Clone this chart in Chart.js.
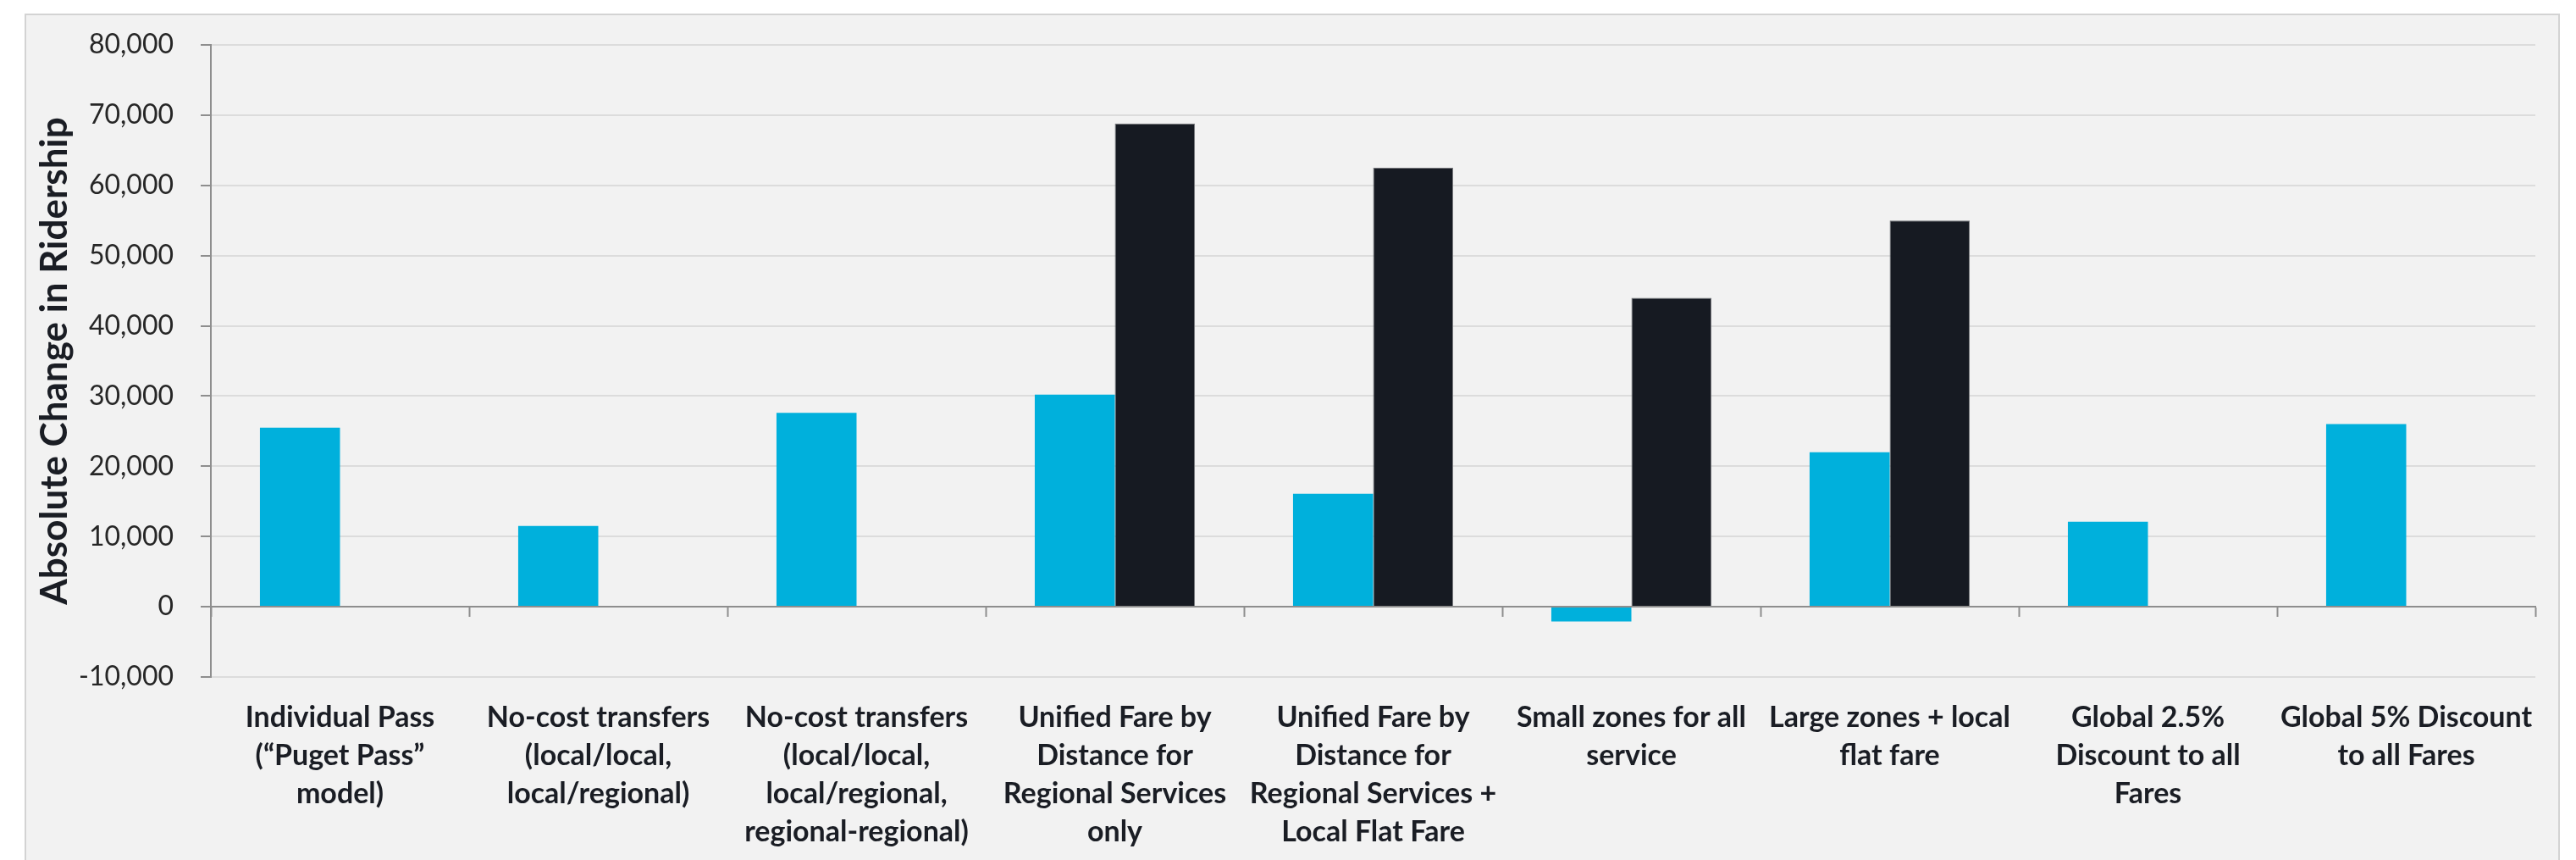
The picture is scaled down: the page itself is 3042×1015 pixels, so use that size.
<!DOCTYPE html>
<html>
<head>
<meta charset="utf-8">
<script src="https://cdn.jsdelivr.net/npm/chart.js@4/dist/chart.umd.min.js"></script>
<style>
  html, body { margin: 0; padding: 0; background: #ffffff; }
  body { width: 3042px; height: 1015px; position: relative; overflow: hidden; }
  #panel {
    position: absolute; left: 29px; top: 16px; width: 2994px; height: 1100px;
    background: #f2f2f2; border: 2px solid #d3d3d3; box-sizing: border-box;
  }
  #wrap { position: absolute; left: 0; top: 0; width: 3042px; height: 1015px; }
</style>
</head>
<body>
<div id="panel"></div>
<div id="wrap"><canvas id="chart"></canvas></div>
<script>
// Fare scenarios (category axis, one array per wrapped label)
const categories = [
  ["Individual Pass", "(\u201cPuget Pass\u201d", "model)"],
  ["No-cost transfers", "(local/local,", "local/regional)"],
  ["No-cost transfers", "(local/local,", "local/regional,", "regional-regional)"],
  ["Unified Fare by", "Distance for", "Regional Services", "only"],
  ["Unified Fare by", "Distance for", "Regional Services +", "Local Flat Fare"],
  ["Small zones for all", "service"],
  ["Large zones + local", "flat fare"],
  ["Global 2.5%", "Discount to all", "Fares"],
  ["Global 5% Discount", "to all Fares"]
];

// Absolute change in ridership, first and second series
const seriesA = [25500, 11500, 27600, 30200, 16100, -2100, 22000, 12100, 26000];
const seriesB = [null, null, null, 68800, 62500, 44000, 55000, null, null];

// Value axis range and tick step
const yMin = -10000;
const yMax = 80000;
const yStep = 10000;

const axisTitle = "Absolute Change in Ridership";

const darkText = "#1a1d24";
const axisGrey = "#8e8e8e";

new Chart(document.getElementById("chart"), {
  type: "bar",
  data: {
    labels: categories,
    datasets: [
      {
        data: seriesA,
        backgroundColor: "#00b0dc",
        borderWidth: 0,
        xAxisID: "x",
        yAxisID: "y"
      },
      {
        data: seriesB,
        backgroundColor: "#161a22",
        borderColor: "#76787c",
        borderWidth: 1,
        xAxisID: "x",
        yAxisID: "y"
      }
    ]
  },
  options: {
    responsive: true,
    maintainAspectRatio: false,
    devicePixelRatio: 1,
    animation: false,
    layout: { padding: { left: 0, top: 53, right: 48, bottom: 0 } },
    datasets: { bar: { categoryPercentage: 0.62, barPercentage: 1.0 } },
    plugins: {
      legend: { display: false },
      tooltip: { enabled: false }
    },
    scales: {
      // axis line and tick marks at zero
      x: {
        type: "category",
        position: { y: 0 },
        offset: true,
        grid: {
          offset: true,
          drawOnChartArea: false,
          drawTicks: true,
          tickLength: 11,
          tickColor: axisGrey,
          tickWidth: 2
        },
        border: { display: true, color: axisGrey, width: 2 },
        ticks: { display: false }
      },
      // category labels below the plot
      x2: {
        type: "category",
        axis: "x",
        position: "bottom",
        offset: true,
        grid: { display: false, drawTicks: false },
        border: { display: false },
        ticks: {
          autoSkip: false,
          maxRotation: 0,
          minRotation: 0,
          padding: 26,
          color: darkText,
          font: { family: "Lato", weight: "bold", size: 34, lineHeight: 1.32 }
        },
        afterFit: (s) => { s.height = 216; s.paddingLeft = 0; s.paddingRight = 0; }
      },
      y: {
        type: "linear",
        position: "left",
        min: yMin,
        max: yMax,
        ticks: {
          stepSize: yStep,
          padding: 32,
          color: "#262626",
          font: { family: "Lato", size: 32 },
          callback: (v) => Number(v).toLocaleString("en-US")
        },
        grid: {
          color: "#dcdcdc",
          lineWidth: 2,
          tickLength: 12,
          tickColor: axisGrey,
          tickWidth: 2
        },
        border: { display: true, color: axisGrey, width: 2 },
        title: {
          display: true,
          text: axisTitle,
          color: darkText,
          font: { family: "Lato", weight: "bold", size: 44, lineHeight: 1.2 },
          padding: { top: 38, bottom: 0 }
        },
        afterFit: (s) => { s.width = 249; }
      }
    }
  }
});
</script>
</body>
</html>
